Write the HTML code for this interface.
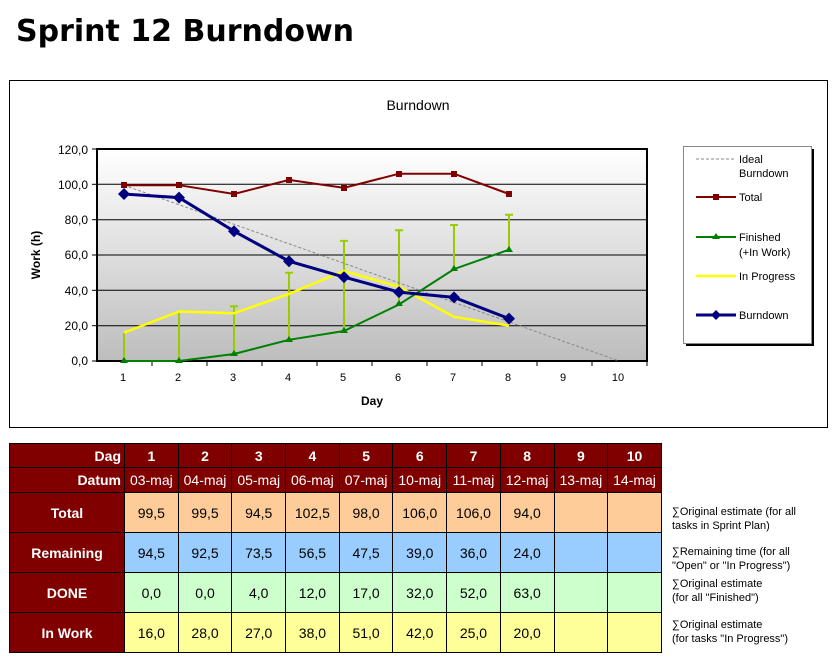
<!DOCTYPE html>
<html><head><meta charset="utf-8"><style>
body{margin:0;width:836px;height:662px;background:#fff;font-family:"Liberation Sans",sans-serif;position:relative;overflow:hidden}
.t{position:absolute;left:16px;top:14px;font-family:"DejaVu Sans","Liberation Sans",sans-serif;font-weight:bold;font-size:30px;color:#000}
table{position:absolute;left:9px;top:443px;border-collapse:collapse;font-size:14px;table-layout:fixed;width:652px}
td{border:1px solid #000;text-align:center;padding:0}
td.h{background:#800000;color:#fff;font-weight:bold}
.r1 td{height:23px;background:#800000;color:#fff;font-weight:bold}
.r2 td{height:24px;background:#800000;color:#fff}
.r1 td.h,.r2 td.h{text-align:right;padding-right:3px}
.rr td{height:39px}
.o td{background:#fdcc99}.b td{background:#99ccff}.g td{background:#ccffcc}.y td{background:#ffff99}
.o td.h,.b td.h,.g td.h,.y td.h{background:#800000}
.n{position:absolute;left:672px;font-size:11px;line-height:14px}
</style></head><body>
<div class="t">Sprint 12 Burndown</div>
<svg style="position:absolute;left:0;top:0" width="836" height="440" font-family="Liberation Sans,sans-serif">
<defs><linearGradient id="g" x1="0" y1="0" x2="0" y2="1"><stop offset="0" stop-color="#ffffff"/><stop offset="1" stop-color="#bdbdbd"/></linearGradient></defs>
<rect x="9.5" y="80.5" width="818" height="347" fill="#fff" stroke="#000"/>
<text x="418" y="110" font-size="14" text-anchor="middle">Burndown</text>
<rect x="97" y="149" width="550" height="212" fill="url(#g)"/>
<g stroke="#000" stroke-width="1">
<line x1="97" y1="184.3" x2="647" y2="184.3"/><line x1="97" y1="219.7" x2="647" y2="219.7"/><line x1="97" y1="255" x2="647" y2="255"/><line x1="97" y1="290.3" x2="647" y2="290.3"/><line x1="97" y1="325.7" x2="647" y2="325.7"/>
</g>
<rect x="97" y="149" width="550" height="212" fill="none" stroke="#000" stroke-width="2"/>
<g stroke="#000"><line x1="92" y1="149" x2="97" y2="149"/><line x1="92" y1="184.3" x2="97" y2="184.3"/><line x1="92" y1="219.7" x2="97" y2="219.7"/><line x1="92" y1="255" x2="97" y2="255"/><line x1="92" y1="290.3" x2="97" y2="290.3"/><line x1="92" y1="325.7" x2="97" y2="325.7"/><line x1="92" y1="361" x2="97" y2="361"/>
<line x1="152" y1="361" x2="152" y2="366"/><line x1="207" y1="361" x2="207" y2="366"/><line x1="262" y1="361" x2="262" y2="366"/><line x1="317" y1="361" x2="317" y2="366"/><line x1="372" y1="361" x2="372" y2="366"/><line x1="427" y1="361" x2="427" y2="366"/><line x1="482" y1="361" x2="482" y2="366"/><line x1="537" y1="361" x2="537" y2="366"/><line x1="592" y1="361" x2="592" y2="366"/><line x1="647" y1="361" x2="647" y2="366"/></g>
<g font-size="12" text-anchor="end"><text x="88" y="154">120,0</text><text x="88" y="189">100,0</text><text x="88" y="224">80,0</text><text x="88" y="259">60,0</text><text x="88" y="295">40,0</text><text x="88" y="330">20,0</text><text x="88" y="365">0,0</text></g>
<g font-size="11" text-anchor="middle"><text x="123" y="381">1</text><text x="178" y="381">2</text><text x="233" y="381">3</text><text x="288" y="381">4</text><text x="343" y="381">5</text><text x="398" y="381">6</text><text x="453" y="381">7</text><text x="508" y="381">8</text><text x="563" y="381">9</text><text x="618" y="381">10</text></g>
<text x="372" y="405" font-size="12" font-weight="bold" text-anchor="middle">Day</text>
<text transform="translate(40,255) rotate(-90)" font-size="12" font-weight="bold" text-anchor="middle">Work (h)</text>
<g stroke="#99cc00" stroke-width="2">
<path d="M124 361V332.7M179 361V311.5M234 354V306.2M289 339.8V272.7M344 331V240.9M399 304.5V230.3M454 269.1V225M509 249.7V214.7"/>
<path d="M230 306.2h8M285 272.7h8M340 240.9h8M395 230.3h8M450 225h8M505 214.7h8"/>
</g>
<polyline points="124,185.2 619,361" fill="none" stroke="#888" stroke-dasharray="3,2"/>
<polyline points="124,185.2 179,185.2 234,194 289,179.9 344,187.9 399,173.7 454,173.7 509,194" fill="none" stroke="#800000" stroke-width="2"/>
<g fill="#800000"><rect x="121" y="182" width="6" height="6"/><rect x="176" y="182" width="6" height="6"/><rect x="231" y="191" width="6" height="6"/><rect x="286" y="177" width="6" height="6"/><rect x="341" y="185" width="6" height="6"/><rect x="396" y="171" width="6" height="6"/><rect x="451" y="171" width="6" height="6"/><rect x="506" y="191" width="6" height="6"/></g>
<polyline points="124,332.7 179,311.5 234,313.3 289,293.9 344,270.9 399,286.8 454,316.8 509,325.7" fill="none" stroke="#ffff00" stroke-width="2.5"/>
<polyline points="124,361 179,361 234,354 289,339.8 344,331 399,304.5 454,269.1 509,249.7" fill="none" stroke="#008000" stroke-width="2"/>
<g fill="#008000"><path d="M124 357l4 6h-8zM179 357l4 6h-8zM234 350l4 6h-8zM289 336l4 6h-8zM344 327l4 6h-8zM399 300l4 6h-8zM454 265l4 6h-8zM509 246l4 6h-8z"/></g>
<polyline points="124,194 179,197.6 234,231.2 289,261.2 344,277.1 399,292.1 454,297.4 509,318.6" fill="none" stroke="#000080" stroke-width="3"/>
<g fill="#000080"><path d="M124 188l6 6-6 6-6-6zM179 191.6l6 6-6 6-6-6zM234 225.2l6 6-6 6-6-6zM289 255.2l6 6-6 6-6-6zM344 271.1l6 6-6 6-6-6zM399 286.1l6 6-6 6-6-6zM454 291.4l6 6-6 6-6-6zM509 312.6l6 6-6 6-6-6z"/></g>
<rect x="686" y="149" width="128" height="197" fill="#000"/>
<rect x="683.5" y="146.5" width="128" height="197" fill="#fff" stroke="#888"/>
<g font-size="11">
<line x1="696" y1="159" x2="736" y2="159" stroke="#888" stroke-dasharray="3,2"/>
<text x="739" y="163">Ideal</text><text x="739" y="177">Burndown</text>
<line x1="696" y1="197" x2="736" y2="197" stroke="#800000" stroke-width="2"/><rect x="713" y="194" width="6" height="6" fill="#800000"/><text x="739" y="201">Total</text>
<line x1="696" y1="237" x2="736" y2="237" stroke="#008000" stroke-width="2"/><path d="M716 233l4 6h-8z" fill="#008000"/><text x="739" y="241">Finished</text><text x="739" y="256">(+In Work)</text>
<line x1="696" y1="276" x2="736" y2="276" stroke="#ffff00" stroke-width="2.5"/><text x="739" y="280">In Progress</text>
<line x1="696" y1="315" x2="736" y2="315" stroke="#000080" stroke-width="3"/><path d="M716 310l5 5-5 5-5-5z" fill="#000080"/><text x="739" y="319">Burndown</text>
</g>
</svg>
<table>
<colgroup><col style="width:115px"><col span="10" style="width:53.7px"></colgroup>
<tr class="r1"><td class="h">Dag</td><td>1</td><td>2</td><td>3</td><td>4</td><td>5</td><td>6</td><td>7</td><td>8</td><td>9</td><td>10</td></tr>
<tr class="r2"><td class="h">Datum</td><td>03-maj</td><td>04-maj</td><td>05-maj</td><td>06-maj</td><td>07-maj</td><td>10-maj</td><td>11-maj</td><td>12-maj</td><td>13-maj</td><td>14-maj</td></tr>
<tr class="rr o"><td class="h">Total</td><td>99,5</td><td>99,5</td><td>94,5</td><td>102,5</td><td>98,0</td><td>106,0</td><td>106,0</td><td>94,0</td><td></td><td></td></tr>
<tr class="rr b"><td class="h">Remaining</td><td>94,5</td><td>92,5</td><td>73,5</td><td>56,5</td><td>47,5</td><td>39,0</td><td>36,0</td><td>24,0</td><td></td><td></td></tr>
<tr class="rr g"><td class="h">DONE</td><td>0,0</td><td>0,0</td><td>4,0</td><td>12,0</td><td>17,0</td><td>32,0</td><td>52,0</td><td>63,0</td><td></td><td></td></tr>
<tr class="rr y"><td class="h">In Work</td><td>16,0</td><td>28,0</td><td>27,0</td><td>38,0</td><td>51,0</td><td>42,0</td><td>25,0</td><td>20,0</td><td></td><td></td></tr>
</table>
<div class="n" style="top:505px">∑Original estimate (for all<br>tasks in Sprint Plan)</div>
<div class="n" style="top:545px">∑Remaining time (for all<br>"Open" or "In Progress")</div>
<div class="n" style="top:577px">∑Original estimate<br>(for all "Finished")</div>
<div class="n" style="top:618px">∑Original estimate<br>(for tasks "In Progress")</div>
</body></html>
